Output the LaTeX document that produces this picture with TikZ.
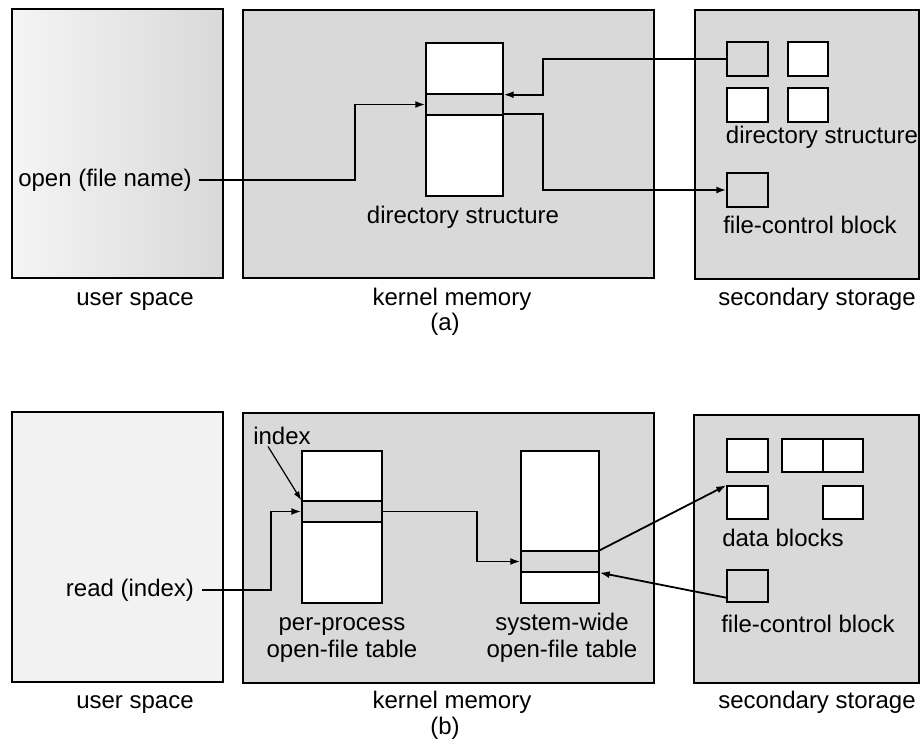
\documentclass[tikz,border=0pt]{standalone}
\usepackage{fontspec}
\setmainfont{Liberation Sans}
\usetikzlibrary{arrows.meta,fit}
\begin{document}
\begin{tikzpicture}[x=1pt,y=-1pt,
  region/.style={draw=black, line width=2pt, inner sep=0pt, fill=black!15},
  cell/.style={draw=black, line width=1.4pt, inner sep=0pt, fill=white},
  dcell/.style={draw=black, line width=1.4pt, inner sep=0pt, fill=black!15},
  lbl/.style={font=\fontsize{24}{27}\selectfont, inner sep=2pt},
  conn/.style={line width=1.8pt, -{Latex[length=10pt,width=7pt]}},
  thinconn/.style={line width=1.2pt, -{Latex[length=9pt,width=6pt]}}]
\useasboundingbox (0,0) rectangle (922,750);

% ---------------- (a) ----------------
\node[region, fill=none, left color=black!4, right color=black!15, fit={(12,9) (223,278)}] (us1) {};
\node[region, fit={(243,10) (654,278)}] (km1) {};
\node[region, fit={(695,10) (919,279)}] (ss1) {};

\node[cell,  fit={(426,43) (503,94)}] (dA) {};
\node[dcell, fit={(426,94) (503,115)}] (dB) {};
\node[cell,  fit={(426,115) (503,196)}] (dC) {};

\node[dcell, fit={(727,42) (768,76)}] (sd1) {};
\node[cell,  fit={(788,42) (828,76)}] (sd2) {};
\node[cell,  fit={(727,88) (768,122)}] (sd3) {};
\node[cell,  fit={(788,88) (828,122)}] (sd4) {};
\node[dcell, fit={(727,173) (768,207)}] (fcb1) {};

\node[lbl, inner xsep=7pt] (openl) at (105,180) {open (file name)};
\node[lbl, anchor=base] (dirk) at (463,223) {directory structure};
\node[lbl, anchor=base] (dirs) at (822,143) {directory structure};
\node[lbl, anchor=base] (fcbl1) at (810,233) {file-control block};

\node[lbl, anchor=base] (usl1) at (135,305) {user space};
\node[lbl, anchor=base] (kml1) at (452,305) {kernel memory};
\node[lbl, anchor=base] (ssl1) at (817,305) {secondary storage};
\node[lbl, anchor=base] (capa) at (445,330) {(a)};

\draw[conn] (openl.east) -| ([xshift=-70pt]dB.west) -- (dB.west);
\draw[conn] (sd1.west) -| ([xshift=39pt]dA.south east) -- (dA.south east);
\draw[conn] (dC.north east) -- ([xshift=39pt]dC.north east) |- (fcb1.west);

% ---------------- (b) ----------------
\node[region, fill=black!5, fit={(12,412) (223,682)}] (us2) {};
\node[region, fit={(243,413) (654,683)}] (km2) {};
\node[region, fit={(694,415) (919,683)}] (ss2) {};

\node[cell,  fit={(302,451) (382,501)}] (ppA) {};
\node[dcell, fit={(302,501) (382,522)}] (ppB) {};
\node[cell,  fit={(302,522) (382,603)}] (ppC) {};

\node[cell,  fit={(521,451) (599,551)}] (swA) {};
\node[dcell, fit={(521,551) (599,572)}] (swB) {};
\node[cell,  fit={(521,572) (599,603)}] (swC) {};

\node[cell,  fit={(727,439) (768,472)}] (db1) {};
\node[cell,  fit={(782,439) (823,472)}] (db2) {};
\node[cell,  fit={(823,439) (863,472)}] (db3) {};
\node[cell,  fit={(727,486) (768,519)}] (db4) {};
\node[cell,  fit={(823,486) (863,519)}] (db5) {};
\node[dcell, fit={(727,570) (768,602)}] (fcb2) {};

\node[lbl, anchor=base] (idx) at (282,444) {index};
\node[lbl, inner xsep=8pt] (readl) at (130,590) {read (index)};
\node[lbl, anchor=base, align=center] (ppl) at (342,657) {per-process\\open-file table};
\node[lbl, anchor=base, align=center] (swl) at (562,657) {system-wide\\open-file table};
\node[lbl, anchor=base] (dbl) at (783,546) {data blocks};
\node[lbl, anchor=base] (fcbl2) at (808,632) {file-control block};

\node[lbl, anchor=base] (usl2) at (135,708) {user space};
\node[lbl, anchor=base] (kml2) at (452,708) {kernel memory};
\node[lbl, anchor=base] (ssl2) at (817,708) {secondary storage};
\node[lbl, anchor=base] (capb) at (445,734) {(b)};

\draw[thinconn] ([xshift=-14pt]idx.south) -- (ppB.north west);
\draw[conn] (readl.east) -| ([xshift=-30pt]ppB.west) -- (ppB.west);
\draw[conn] (ppB.east) -| ([xshift=-43pt]swB.west) -- (swB.west);
\draw[conn] (swB.north east) -- (db4.north west);
\draw[conn] ([yshift=5pt]fcb2.south west) -- (swB.south east);
\end{tikzpicture}
\end{document}
